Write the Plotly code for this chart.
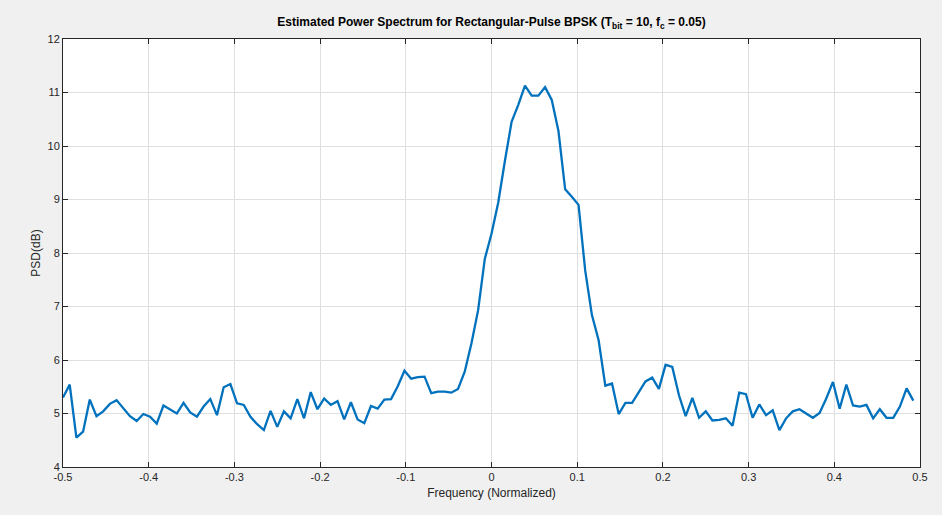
import numpy as np
import plotly.graph_objects as go

# Normalized frequency grid: 128 bins from -0.5 up to (not including) 0.5
n_bins = 128
freq = [-0.5 + k / n_bins for k in range(n_bins)]

# Estimated PSD in dB, one value per frequency bin
psd_db = [
    5.30, 5.54, 4.55, 4.66, 5.26, 4.95, 5.04, 5.18, 5.25, 5.11,
    4.95, 4.86, 4.99, 4.94, 4.81, 5.15, 5.07, 5.00, 5.20, 5.02,
    4.94, 5.13, 5.27, 4.97, 5.49, 5.55, 5.19, 5.16, 4.94, 4.80,
    4.69, 5.05, 4.75, 5.04, 4.91, 5.27, 4.91, 5.40, 5.08, 5.28,
    5.16, 5.23, 4.89, 5.21, 4.89, 4.82, 5.14, 5.09, 5.26, 5.27,
    5.51, 5.80, 5.65, 5.68, 5.69, 5.38, 5.41, 5.41, 5.39, 5.46,
    5.78, 6.31, 6.93, 7.89, 8.36, 8.94, 9.72, 10.45, 10.77, 11.13,
    10.94, 10.94, 11.10, 10.86, 10.28, 9.19, 9.05, 8.90, 7.67, 6.84,
    6.37, 5.52, 5.56, 4.99, 5.20, 5.20, 5.40, 5.60, 5.67, 5.46,
    5.91, 5.87, 5.34, 4.95, 5.29, 4.92, 5.04, 4.87, 4.88, 4.91,
    4.77, 5.39, 5.36, 4.92, 5.17, 4.97, 5.06, 4.69, 4.91, 5.04,
    5.08, 5.00, 4.92, 5.01, 5.28, 5.59, 5.09, 5.54, 5.15, 5.13,
    5.16, 4.91, 5.08, 4.92, 4.92, 5.13, 5.47, 5.24,
]

x_ticks = [-0.5, -0.4, -0.3, -0.2, -0.1, 0, 0.1, 0.2, 0.3, 0.4, 0.5]
x_tick_text = ["-0.5", "-0.4", "-0.3", "-0.2", "-0.1", "0", "0.1", "0.2", "0.3", "0.4", "0.5"]
y_ticks = [4, 5, 6, 7, 8, 9, 10, 11, 12]
y_tick_text = ["4", "5", "6", "7", "8", "9", "10", "11", "12"]

FONT = "Liberation Sans, Arial, sans-serif"
AXIS_COLOR = "#262626"
GRID_COLOR = "#dfdfdf"

fig = go.Figure()
fig.add_trace(go.Scatter(
    x=freq, y=psd_db, mode="lines",
    line=dict(color="#0072BD", width=2.3),
    hoverinfo="x+y", showlegend=False,
))

axis_common = dict(
    showline=True, linecolor=AXIS_COLOR, linewidth=1, mirror="allticks",
    ticks="inside", ticklen=5, tickcolor=AXIS_COLOR, tickwidth=1,
    showgrid=True, gridcolor=GRID_COLOR, gridwidth=1,
    zeroline=False,
    tickfont=dict(family=FONT, size=11, color=AXIS_COLOR),
)

fig.update_layout(
    width=942, height=515,
    paper_bgcolor="#f0f0f0", plot_bgcolor="#ffffff",
    margin=dict(l=63, r=22, t=39, b=48),
    font=dict(family=FONT, color=AXIS_COLOR),
    title=dict(
        text="<b>Estimated Power Spectrum for Rectangular-Pulse BPSK (T<sub>bit</sub> = 10, f<sub>c</sub> = 0.05)</b>",
        x=0.5, xref="paper", xanchor="center",
        y=1, yref="paper", yanchor="bottom", pad=dict(b=13),
        font=dict(family=FONT, size=12, color="#000000"),
    ),
    xaxis=dict(
        range=[-0.5, 0.5], tickvals=x_ticks, ticktext=x_tick_text,
        title=dict(text="Frequency (Normalized)", standoff=6,
                   font=dict(family=FONT, size=12, color=AXIS_COLOR)),
        **axis_common,
    ),
    yaxis=dict(
        range=[4, 12], tickvals=y_ticks, ticktext=y_tick_text,
        title=dict(text="PSD(dB)", standoff=4,
                   font=dict(family=FONT, size=12, color=AXIS_COLOR)),
        **axis_common,
    ),
)

fig.write_html("out.html")
